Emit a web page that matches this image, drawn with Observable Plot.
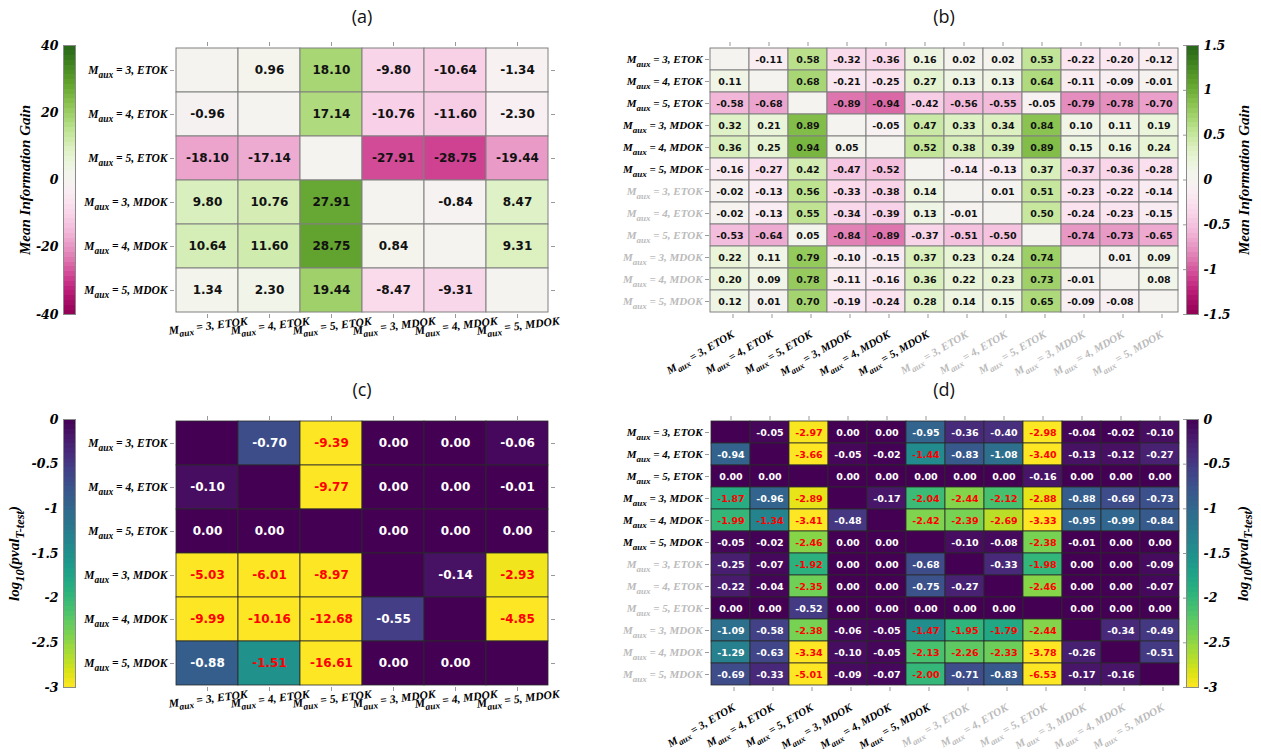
<!DOCTYPE html>
<html><head><meta charset="utf-8">
<script src="https://cdn.jsdelivr.net/npm/d3@7"></script>
<script src="https://cdn.jsdelivr.net/npm/@observablehq/plot@0.6"></script>
<style>
body{margin:0;background:#fff;}
#root{position:relative;width:1261px;height:753px;overflow:hidden;background:#fff;}
#root > svg, #root > div{position:absolute;}
.ttl{font-family:"Open Sans",sans-serif;font-size:18px;color:#111;transform:translateX(-50%);line-height:24px;}
</style></head><body><div id="root"></div>
<script>
// ---------- data ----------
const categories = ["M_{aux} = 3, ETOK", "M_{aux} = 4, ETOK", "M_{aux} = 5, ETOK",
                    "M_{aux} = 3, MDOK", "M_{aux} = 4, MDOK", "M_{aux} = 5, MDOK"];
const categoriesExt = [...categories, ...categories]; // second group drawn in gray

const gainA = [
  [null, 0.96, 18.10, -9.80, -10.64, -1.34],
  [-0.96, null, 17.14, -10.76, -11.60, -2.30],
  [-18.10, -17.14, null, -27.91, -28.75, -19.44],
  [9.80, 10.76, 27.91, null, -0.84, 8.47],
  [10.64, 11.60, 28.75, 0.84, null, 9.31],
  [1.34, 2.30, 19.44, -8.47, -9.31, null]
];
const gainB = [
  [null, -0.11, 0.58, -0.32, -0.36, 0.16, 0.02, 0.02, 0.53, -0.22, -0.20, -0.12],
  [0.11, null, 0.68, -0.21, -0.25, 0.27, 0.13, 0.13, 0.64, -0.11, -0.09, -0.01],
  [-0.58, -0.68, null, -0.89, -0.94, -0.42, -0.56, -0.55, -0.05, -0.79, -0.78, -0.70],
  [0.32, 0.21, 0.89, null, -0.05, 0.47, 0.33, 0.34, 0.84, 0.10, 0.11, 0.19],
  [0.36, 0.25, 0.94, 0.05, null, 0.52, 0.38, 0.39, 0.89, 0.15, 0.16, 0.24],
  [-0.16, -0.27, 0.42, -0.47, -0.52, null, -0.14, -0.13, 0.37, -0.37, -0.36, -0.28],
  [-0.02, -0.13, 0.56, -0.33, -0.38, 0.14, null, 0.01, 0.51, -0.23, -0.22, -0.14],
  [-0.02, -0.13, 0.55, -0.34, -0.39, 0.13, -0.01, null, 0.50, -0.24, -0.23, -0.15],
  [-0.53, -0.64, 0.05, -0.84, -0.89, -0.37, -0.51, -0.50, null, -0.74, -0.73, -0.65],
  [0.22, 0.11, 0.79, -0.10, -0.15, 0.37, 0.23, 0.24, 0.74, null, 0.01, 0.09],
  [0.20, 0.09, 0.78, -0.11, -0.16, 0.36, 0.22, 0.23, 0.73, -0.01, null, 0.08],
  [0.12, 0.01, 0.70, -0.19, -0.24, 0.28, 0.14, 0.15, 0.65, -0.09, -0.08, null]
];
const pvalC = [
  [null, -0.70, -9.39, 0.00, 0.00, -0.06],
  [-0.10, null, -9.77, 0.00, 0.00, -0.01],
  [0.00, 0.00, null, 0.00, 0.00, 0.00],
  [-5.03, -6.01, -8.97, null, -0.14, -2.93],
  [-9.99, -10.16, -12.68, -0.55, null, -4.85],
  [-0.88, -1.51, -16.61, 0.00, 0.00, null]
];
const pvalD = [
  [null, -0.05, -2.97, 0.00, 0.00, -0.95, -0.36, -0.40, -2.98, -0.04, -0.02, -0.10],
  [-0.94, null, -3.66, -0.05, -0.02, -1.44, -0.83, -1.08, -3.40, -0.13, -0.12, -0.27],
  [0.00, 0.00, null, 0.00, 0.00, 0.00, 0.00, 0.00, -0.16, 0.00, 0.00, 0.00],
  [-1.87, -0.96, -2.89, null, -0.17, -2.04, -2.44, -2.12, -2.88, -0.88, -0.69, -0.73],
  [-1.99, -1.34, -3.41, -0.48, null, -2.42, -2.39, -2.69, -3.33, -0.95, -0.99, -0.84],
  [-0.05, -0.02, -2.46, 0.00, 0.00, null, -0.10, -0.08, -2.38, -0.01, 0.00, 0.00],
  [-0.25, -0.07, -1.92, 0.00, 0.00, -0.68, null, -0.33, -1.98, 0.00, 0.00, -0.09],
  [-0.22, -0.04, -2.35, 0.00, 0.00, -0.75, -0.27, null, -2.46, 0.00, 0.00, -0.07],
  [0.00, 0.00, -0.52, 0.00, 0.00, 0.00, 0.00, 0.00, null, 0.00, 0.00, 0.00],
  [-1.09, -0.58, -2.38, -0.06, -0.05, -1.47, -1.95, -1.79, -2.44, null, -0.34, -0.49],
  [-1.29, -0.63, -3.34, -0.10, -0.05, -2.13, -2.26, -2.33, -3.78, -0.26, null, -0.51],
  [-0.69, -0.33, -5.01, -0.09, -0.07, -2.00, -0.71, -0.83, -6.53, -0.17, -0.16, null]
];
const gainTicksA = [-40, -20, 0, 20, 40];
const gainTicksB = [-1.5, -1, -0.5, 0, 0.5, 1, 1.5];
const pvalTicks = [0, -0.5, -1, -1.5, -2, -2.5, -3];
const gainLabel = "Mean Information Gain";
const pvalLabel = "log_{10}(pval_{T-test})";
const signif = Math.log10(0.05);

// ---------- helpers ----------
const root = document.getElementById("root");
const labelFont = {fontFamily: "Liberation Serif", fontWeight: "bold", fontStyle: "italic"};
const numFont = {fontFamily: "DejaVu Serif", fontWeight: "bold", fontStyle: "italic"};

function place(el, left, top) { el.style.left = left + "px"; el.style.top = top + "px"; root.appendChild(el); return el; }

function heatmap({matrix, names, grayFrom, color, width, height, m, fontSize, textColor, cellStroke, strokeWidth, rotate, xPad, xDx, yFontSize, xFontSize, rightTicks}) {
  const n = names.length, idx = d3.range(n);
  const cells = [];
  matrix.forEach((row, i) => row.forEach((v, j) => cells.push({row: i, col: j, v})));
  const shown = cells.filter(d => d.v != null);
  const groups = d3.groups(shown, d => textColor(d.v));
  const fmt = i => names[i];
  const blackIdx = idx.filter(i => i < grayFrom), grayIdx = idx.filter(i => i >= grayFrom);
  const xOpts = {anchor: "bottom", tickSize: 4, tickPadding: xPad, dx: xDx, tickRotate: rotate, tickFormat: fmt, stroke: "#999", label: null, ...labelFont, fontSize: xFontSize};
  if (Math.abs(rotate) < 10) { xOpts.textAnchor = "middle"; xOpts.lineAnchor = "top"; }
  const yOpts = {anchor: "left", tickSize: 4, tickPadding: 3, tickFormat: fmt, stroke: "#999", label: null, ...labelFont, fontSize: yFontSize};
  const marks = [
    Plot.cell(cells, {x: "col", y: "row", fill: d => d.v ?? 0, stroke: cellStroke, strokeWidth}),
    ...groups.map(([c, arr]) => Plot.text(arr, {x: "col", y: "row", text: d => d.v.toFixed(2), fill: c,
      fontFamily: "DejaVu Sans", fontWeight: "bold", fontSize})),
    Plot.axisX(idx, {anchor: "top", tickSize: 4, tickFormat: () => "", stroke: "#999", label: null}),
    Plot.axisX(blackIdx, {...xOpts, fill: "#000"}),
    Plot.axisY(blackIdx, {...yOpts, fill: "#000"})
  ];
  if (grayIdx.length) {
    marks.push(Plot.axisX(grayIdx, {...xOpts, fill: "#bbb"}));
    marks.push(Plot.axisY(grayIdx, {...yOpts, fill: "#bbb"}));
  }
  if (rightTicks) marks.push(Plot.axisY(idx, {anchor: "right", tickSize: 4, tickFormat: () => "", stroke: "#999", label: null}));
  return Plot.plot({
    width, height, marginLeft: m[0], marginRight: m[1], marginTop: m[2], marginBottom: m[3],
    style: {background: "transparent", overflow: "visible"},
    x: {type: "band", domain: idx, padding: 0},
    y: {type: "band", domain: idx, padding: 0},
    color, marks
  });
}

function colorbar({color, domain, ticks, label, width, height, m, anchor, labelOffset, innerTicks}) {
  const marks = [
    Plot.raster({x1: 0, x2: 1, y1: domain[0], y2: domain[1], width: 1, height: 56, fill: (x, y) => y, imageRendering: "pixelated"}),
    Plot.frame({stroke: "#8a8a8a"}),
    Plot.axisY(ticks, {anchor, tickSize: 0, tickPadding: 5, tickFormat: d => String(d), fill: "#000",
      ...numFont, fontSize: 12.5, label: null}),
    Plot.axisY(ticks, {anchor, tickSize: 0, tickFormat: () => "", label, labelAnchor: "center", labelArrow: "none", labelOffset,
      fill: "#000", ...labelFont, fontSize: 15})
  ];
  if (innerTicks) marks.push(Plot.axisY(ticks, {anchor: "left", tickSize: 3, tickFormat: () => "", stroke: "#999", label: null}));
  return Plot.plot({
    width, height, marginLeft: m[0], marginRight: m[1], marginTop: m[2], marginBottom: m[3],
    style: {background: "transparent", overflow: "visible"},
    x: {domain: [0, 1], axis: null},
    y: {domain, nice: false},
    color, marks
  });
}

function richText(svg) {
  d3.select(svg).selectAll("text").each(function () {
    const s = this.textContent;
    if (!s.includes("_{")) return;
    const size = parseFloat(getComputedStyle(this).fontSize) || 10;
    const shift = size * 0.32;
    const parts = [];
    const re = /_\{([^}]*)\}/g;
    let last = 0, mm;
    while ((mm = re.exec(s))) {
      if (mm.index > last) parts.push({t: s.slice(last, mm.index), sub: false});
      parts.push({t: mm[1], sub: true});
      last = re.lastIndex;
    }
    if (last < s.length) parts.push({t: s.slice(last), sub: false});
    const el = d3.select(this);
    el.text(null);
    let cur = 0;
    for (const p of parts) {
      const ts = el.append("tspan").text(p.t);
      const want = p.sub ? shift : 0;
      if (want !== cur) ts.attr("dy", want - cur);
      if (p.sub) ts.attr("font-size", size * 0.82);
      cur = want;
    }
  });
}

function title(txt, cx, cy) {
  const d = document.createElement("div");
  d.className = "ttl"; d.textContent = txt;
  place(d, cx, cy - 12);
}

// ---------- colours ----------
const colA = {type: "linear", scheme: "PiYG", domain: [-40, 40], clamp: true};
const colB = {type: "linear", scheme: "PiYG", domain: [-1.5, 1.5], clamp: true};
const colP = {type: "linear", scheme: "viridis", domain: [-3, 0], reverse: true, clamp: true};
const black = () => "#111";
const pText = v => (v < signif ? "#ff0000" : "#ffffff");

// ---------- panels ----------
const small = {fontSize: 12, rotate: -7, xPad: 3, xDx: 0, yFontSize: 11.5, xFontSize: 11.5, rightTicks: true};
const big = {fontSize: 9.5, rotate: -30, xPad: 15, xDx: 3, yFontSize: 11, xFontSize: 11, rightTicks: false};
const svgs = [];
svgs.push(place(colorbar({color: colA, domain: [-40, 40], ticks: gainTicksA, label: gainLabel, width: 174, height: 376, m: [63, 99, 45, 62], anchor: "left", labelOffset: 44}), 0, 0));
svgs.push(place(heatmap({matrix: gainA, names: categories, grayFrom: 6, color: colA, width: 630, height: 376, m: [174, 80, 45, 62], textColor: black, cellStroke: "#808080", strokeWidth: 1, ...small}), 0, 0));

svgs.push(place(heatmap({matrix: gainB, names: categoriesExt, grayFrom: 6, color: colB, width: 631, height: 376, m: [79, 82, 45, 62], textColor: black, cellStroke: "#808080", strokeWidth: 1, ...big}), 630, 0));
svgs.push(place(colorbar({color: colB, domain: [-1.5, 1.5], ticks: gainTicksB, label: gainLabel, width: 161, height: 376, m: [86, 63, 45, 62], anchor: "right", labelOffset: 50, innerTicks: true}), 1100, 0));

svgs.push(place(colorbar({color: colP, domain: [-3, 0], ticks: pvalTicks, label: pvalLabel, width: 174, height: 377, m: [63, 99, 43, 66], anchor: "left", labelOffset: 55}), 0, 376));
svgs.push(place(heatmap({matrix: pvalC, names: categories, grayFrom: 6, color: colP, width: 630, height: 377, m: [174, 80, 43, 66], textColor: pText, cellStroke: "#2a2a2a", strokeWidth: 0.8, ...small}), 0, 376));

svgs.push(place(heatmap({matrix: pvalD, names: categoriesExt, grayFrom: 6, color: colP, width: 631, height: 377, m: [79, 81, 43, 66], textColor: pText, cellStroke: "#2a2a2a", strokeWidth: 0.8, ...big}), 630, 376));
svgs.push(place(colorbar({color: colP, domain: [-3, 0], ticks: pvalTicks, label: pvalLabel, width: 161, height: 377, m: [86, 63, 43, 66], anchor: "right", labelOffset: 49, innerTicks: true}), 1100, 376));

svgs.forEach(richText);

title("(a)", 362, 16);
title("(b)", 944, 16);
title("(c)", 362, 389);
title("(d)", 944, 389);
</script></body></html>
